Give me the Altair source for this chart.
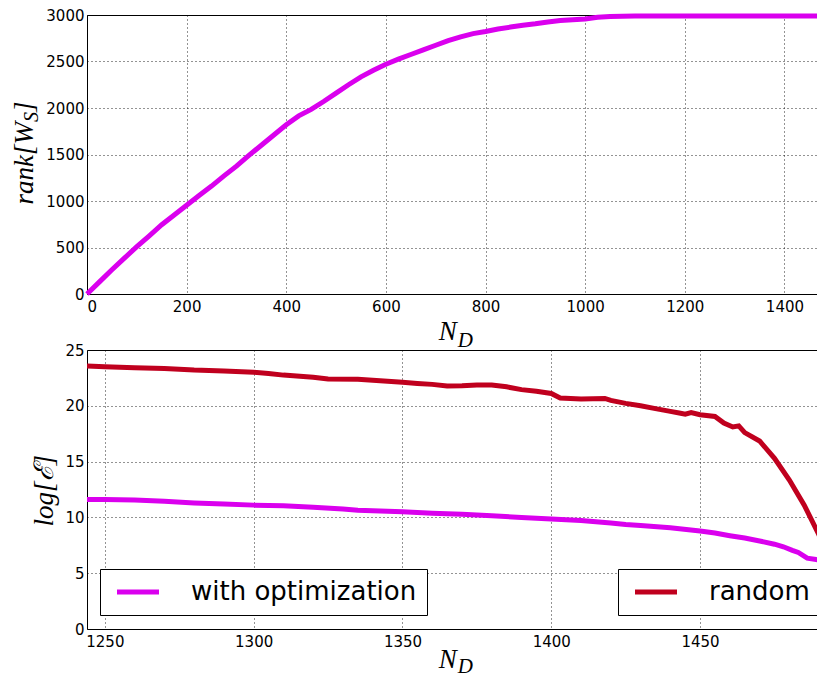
import altair as alt
import pandas as pd

MAGENTA = "#DA00EE"
RED = "#C0001E"
SERIES = ["with optimization", "random"]

# ---- top panel: rank[W_S] vs N_D ----
TOP_N = [0, 25, 50, 75, 100, 125, 150, 175, 200, 225, 250, 275, 300, 325, 350,
         375, 400, 425, 450, 475, 500, 525, 550, 575, 600, 625, 650, 675, 700,
         725, 750, 775, 800, 825, 850, 875, 900, 925, 950, 975, 1000, 1025,
         1050, 1100, 1200, 1300, 1400, 1477]
TOP_RANK = [0, 130, 260, 385, 510, 625, 745, 850, 955, 1060, 1160, 1270, 1375,
            1490, 1600, 1710, 1820, 1915, 1985, 2070, 2160, 2250, 2335, 2405,
            2470, 2525, 2575, 2625, 2675, 2725, 2765, 2800, 2822, 2850, 2870,
            2890, 2905, 2925, 2940, 2950, 2958, 2975, 2983, 2988, 2990, 2990,
            2990, 2990]

# ---- bottom panel: log[E] vs N_D ----
OPT_N = [1244, 1250, 1260, 1270, 1280, 1290, 1300, 1310, 1320, 1330, 1335, 1340,
         1350, 1360, 1370, 1375, 1380, 1390, 1400, 1410, 1415, 1420, 1425, 1430,
         1440, 1450, 1455, 1460, 1465, 1470, 1475, 1478, 1481, 1483, 1486, 1489,
         1490, 1491.3]
OPT_LOG = [11.61, 11.6, 11.55, 11.45, 11.3, 11.2, 11.1, 11.05, 10.9, 10.75, 10.65,
           10.6, 10.5, 10.38, 10.28, 10.22, 10.15, 10.0, 9.86, 9.72, 9.6, 9.5,
           9.37, 9.27, 9.08, 8.78, 8.6, 8.36, 8.15, 7.89, 7.6, 7.37, 7.05, 6.86,
           6.35, 6.22, 6.18, 5.4]
RAND_N = [1244, 1250, 1260, 1270, 1280, 1290, 1300, 1305, 1310, 1320, 1325, 1335,
          1345, 1350, 1355, 1360, 1365, 1370, 1375, 1380, 1385, 1390, 1395, 1400,
          1403, 1410, 1418, 1420, 1425, 1430, 1435, 1440, 1443, 1445, 1447, 1450,
          1455, 1458, 1461, 1463, 1465, 1470, 1475, 1480, 1485, 1490, 1491.3]
RAND_LOG = [23.57, 23.5, 23.42, 23.35, 23.2, 23.12, 23.0, 22.9, 22.75, 22.55, 22.4,
            22.37, 22.2, 22.1, 22.0, 21.92, 21.77, 21.8, 21.86, 21.86, 21.7, 21.45,
            21.3, 21.11, 20.7, 20.6, 20.66, 20.48, 20.22, 20.0, 19.75, 19.5, 19.35,
            19.25, 19.4, 19.2, 19.05, 18.45, 18.1, 18.2, 17.6, 16.85, 15.3, 13.35,
            11.1, 8.4, 7.6]

TOP_X_TICKS = [0, 200, 400, 600, 800, 1000, 1200, 1400]
TOP_Y_TICKS = [0, 500, 1000, 1500, 2000, 2500, 3000]
BOT_X_TICKS = [1250, 1300, 1350, 1400, 1450]
BOT_Y_TICKS = [0, 5, 10, 15, 20, 25]

W, H = 736, 279

top_df = pd.DataFrame({"N": TOP_N, "rank": TOP_RANK})
opt_df = pd.DataFrame({"N": OPT_N, "v": OPT_LOG, "series": SERIES[0]})
rand_df = pd.DataFrame({"N": RAND_N, "v": RAND_LOG, "series": SERIES[1]})
one = pd.DataFrame({"t": [0]})


def label(text, x, y, size, angle=0, align="left", baseline="alphabetic"):
    return alt.Chart(one).mark_text(
        text=text, font="Liberation Serif", fontStyle="italic", fontSize=size,
        angle=angle, align=align, baseline=baseline, color="black"
    ).encode(x=alt.value(x), y=alt.value(y))


def nd_title(yn, yd):
    return [label("N", 351.7, yn, 27), label("D", 370.7, yd, 21)]


top_line = alt.Chart(top_df).mark_line(color=MAGENTA, strokeWidth=5).encode(
    x=alt.X("N:Q", scale=alt.Scale(domain=[0, 1477.4], nice=False, zero=False),
            axis=alt.Axis(values=TOP_X_TICKS, title=None, labelPadding=5, format="d")),
    y=alt.Y("rank:Q", scale=alt.Scale(domain=[0, 3000], nice=False),
            axis=alt.Axis(values=TOP_Y_TICKS, title=None, labelPadding=3, format="d")),
)

top = alt.layer(
    top_line,
    label("rank[W", -54, 107, 27, angle=270, align="right"),
    label("S", -49.3, 107, 20, angle=270, align="left"),
    label("]", -54, 97, 27, angle=270, align="left"),
    *nd_title(324.7, 331.7),
).properties(width=W, height=H)


def legend(x):
    return alt.Legend(
        orient="none", legendX=x, legendY=219, title=None,
        labelFont="DejaVu Sans", labelFontSize=26, labelColor="black",
        labelLimit=400, symbolType="M-3,0L3,0", symbolSize=196,
        symbolStrokeWidth=5, symbolOffset=15, labelOffset=40, padding=10,
        strokeColor="black", fillColor="white", cornerRadius=0,
    )


xb = alt.X("N:Q", scale=alt.Scale(domain=[1244, 1491.3], nice=False, zero=False),
           axis=alt.Axis(values=BOT_X_TICKS, title=None, labelPadding=5, format="d"))
yb = alt.Y("v:Q", scale=alt.Scale(domain=[0, 25], nice=False),
           axis=alt.Axis(values=BOT_Y_TICKS, title=None, labelPadding=3, format="d"))

opt_line = alt.Chart(opt_df).mark_line(strokeWidth=5, clip=True).encode(
    x=xb, y=yb,
    color=alt.Color("series:N", scale=alt.Scale(domain=[SERIES[0]], range=[MAGENTA]),
                    legend=legend(13)),
)
rand_line = alt.Chart(rand_df).mark_line(strokeWidth=5, clip=True).encode(
    x=xb, y=yb,
    color=alt.Color("series:N", scale=alt.Scale(domain=[SERIES[1]], range=[RED]),
                    legend=legend(531)),
)

bottom = alt.layer(
    rand_line, opt_line,
    label("log[ℰ]", -34, 140.7, 27, angle=270, align="center"),
    *nd_title(318, 323),
).resolve_scale(color="independent").properties(width=W, height=H)

chart = alt.vconcat(top, bottom, spacing=56, bounds="flush").properties(
    padding={"left": 2, "top": -3, "right": -17, "bottom": 0},
    background="white",
).configure_view(stroke="black", strokeWidth=1).configure_axis(
    grid=True, gridColor="#000000", gridDash=[1, 3], gridOpacity=0.85,
    gridWidth=1, domain=False, ticks=False, tickSize=0,
    labelFont="DejaVu Sans", labelFontSize=15, labelColor="black",
)

chart.save("out.html", embed_options={"renderer": "svg", "actions": False})
